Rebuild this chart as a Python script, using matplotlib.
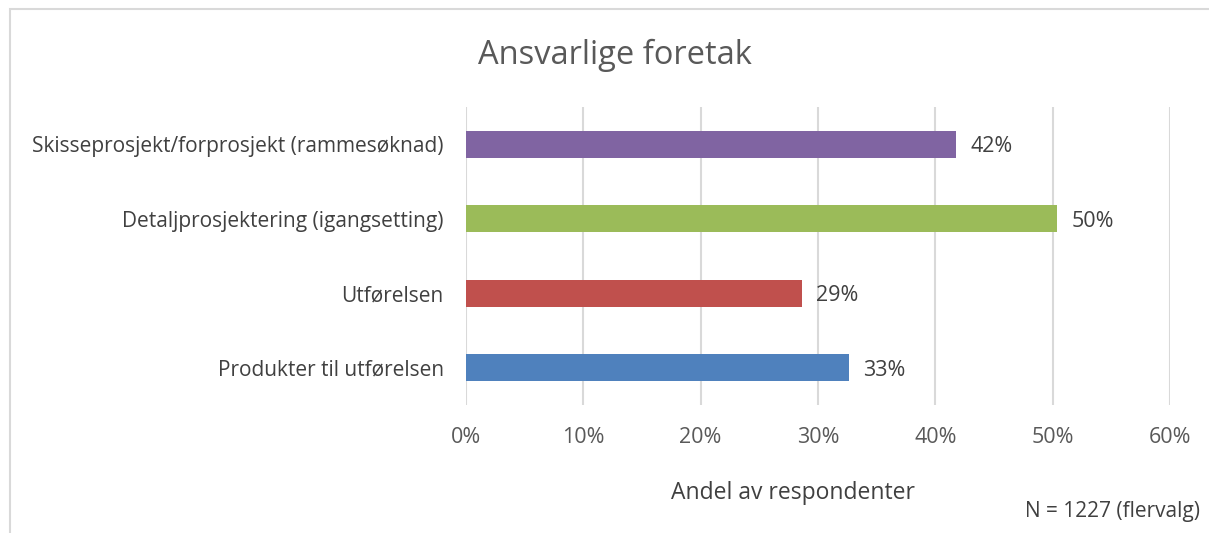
import matplotlib.pyplot as plt
from matplotlib.patches import Rectangle

# data (bottom to top)
categories = ["Produkter til utførelsen", "Utførelsen",
              "Detaljprosjektering (igangsetting)",
              "Skisseprosjekt/forprosjekt (rammesøknad)"]
values = [32.6, 28.6, 50.4, 41.8]
colors = ["#4F81BD", "#C0504D", "#9BBB59", "#8064A2"]
xticks = [0, 10, 20, 30, 40, 50, 60]

plt.rcParams['font.family'] = ['Open Sans', 'DejaVu Sans']
txt = "#595959"

fig = plt.figure(figsize=(12.09, 5.33), dpi=100)
# light frame around the chart (only left/top visible in the crop)
fig.patches.append(Rectangle((10/1209, -0.1), 1.2, 1 - 9/533 + 0.1,
                             transform=fig.transFigure, fill=False,
                             edgecolor="#d9d9d9", linewidth=1.5))

ax = fig.add_axes([466/1209, 1 - 405/533, (1170-466)/1209, (405-107)/533])
y = range(len(categories))
ax.barh(y, values, height=0.36, color=colors, zorder=3)
for i, v in enumerate(values):
    ax.text(v + 1.2, i, f"{round(v)}%", va="center_baseline", ha="left",
            fontsize=15.5, color="#404040")

ax.set_xlim(0, 60)
ax.set_ylim(-0.5, 3.5)
ax.set_xticks(xticks)
ax.set_xticklabels([f"{t}%" for t in xticks], fontsize=15.5, color=txt)
ax.set_yticks(list(y))
ax.set_yticklabels(categories, fontsize=15, color="#404040",
                   va="center_baseline")
ax.tick_params(length=0, pad=16, axis="x")
ax.tick_params(length=0, pad=16, axis="y")
ax.grid(axis="x", color="#d9d9d9", linewidth=1.5, zorder=0)
for s in ax.spines.values():
    s.set_visible(False)

fig.text(615/1209, 1 - 55/533, "Ansvarlige foretak", ha="center", va="center",
         fontsize=23.5, color=txt)
fig.text(793/1209, 1 - 493/533, "Andel av respondenter", ha="center",
         va="center", fontsize=16.5, color="#404040")
fig.text(1200/1209, 1 - 511/533, "N = 1227 (flervalg)", ha="right",
         va="center", fontsize=15, color="#404040")

fig.savefig("out.png", dpi=100)
